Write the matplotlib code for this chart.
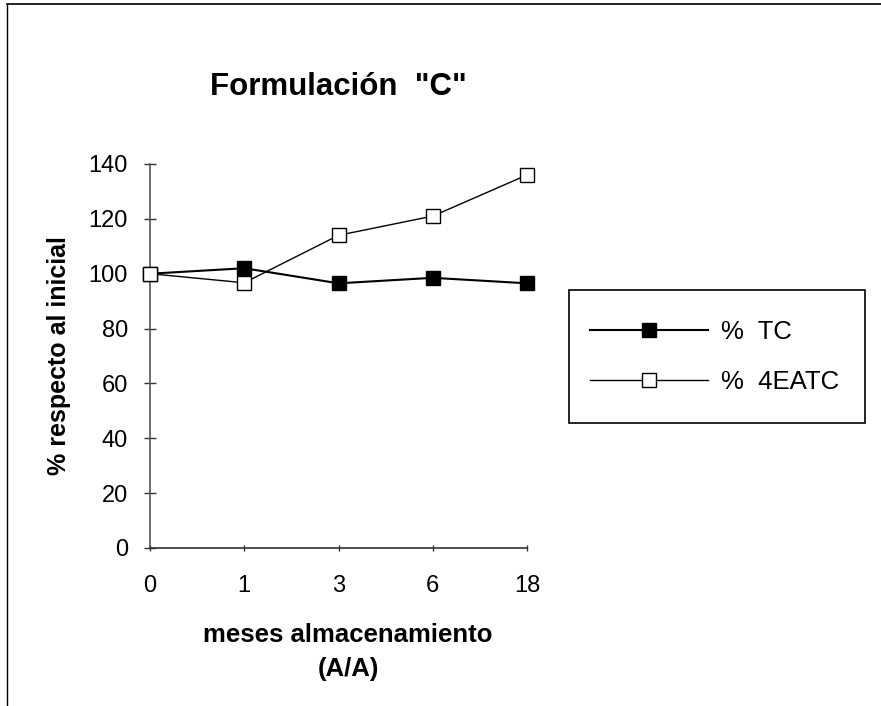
import matplotlib
matplotlib.use("Agg")
from matplotlib import pyplot as plt
from matplotlib.lines import Line2D
from matplotlib.patches import Rectangle

# datos
meses = ['0', '1', '3', '6', '18']
tc = [100, 102, 96.5, 98.5, 96.5]
eatc = [100, 96.7, 114, 121, 136]

plt.rcParams['font.family'] = ['Liberation Sans', 'DejaVu Sans']

W, H = 881, 706
fig = plt.figure(figsize=(W / 100, H / 100), dpi=100)
fig.patch.set_facecolor('white')

# ejes en pixeles
x0, x1, ytop, ybot = 150, 527, 164, 548
ax = fig.add_axes([x0 / W, 1 - ybot / H, (x1 - x0) / W, (ybot - ytop) / H])

pos = list(range(len(meses)))
ax.plot(pos, tc, color='black', linewidth=1.5, marker='s', markersize=10.5,
        markerfacecolor='black', markeredgecolor='black', clip_on=False,
        label='%  TC', zorder=3)
ax.plot(pos, eatc, color='black', linewidth=1.0, marker='s', markersize=10.5,
        markerfacecolor='white', markeredgecolor='black', markeredgewidth=1.0,
        clip_on=False, label='%  4EATC', zorder=4)

ax.set_xlim(0, len(meses) - 1)
ax.set_ylim(0, 140)
ax.set_yticks(range(0, 141, 20))
ax.set_xticks(pos)
ax.set_xticklabels(meses)

for s in ['top', 'right']:
    ax.spines[s].set_visible(False)
ax.spines['left'].set_color('#555555')
ax.spines['bottom'].set_color('#333333')
ax.spines['left'].set_linewidth(1.2)
ax.spines['bottom'].set_linewidth(1.2)

ax.tick_params(axis='y', direction='inout', length=8, width=1, color='#333333',
               labelsize=17, pad=12)
ax.tick_params(axis='x', direction='inout', length=5, width=1, color='#333333',
               labelsize=17, pad=17)

ax.set_ylabel('% respecto al inicial', fontsize=18, fontweight='bold')
ax.yaxis.label.set_va('center')
ax.yaxis.set_label_coords((59 - x0) / (x1 - x0), 0.5)

ax.set_xlabel('meses almacenamiento\n(A/A)', fontsize=18.5, fontweight='bold',
              linespacing=1.5)
ax.xaxis.label.set_va('center')
ax.xaxis.set_label_coords((348 - x0) / (x1 - x0), -(652 - ybot) / (ybot - ytop))

fig.text(210 / W, 1 - 87 / H, 'Formulación  "C"', fontsize=22.5,
         fontweight='bold', ha='left', va='center')

# leyenda
leg = fig.legend(loc='center left', bbox_to_anchor=(590 / W, 1 - 357 / H),
                 frameon=False, fontsize=18.5, handlelength=4.6,
                 handletextpad=0.5, labelspacing=1.05, borderpad=0,
                 borderaxespad=0, markerscale=1.0)
fig.patches.append(Rectangle((569 / W, 1 - 423 / H), 296 / W, 133 / H,
                             transform=fig.transFigure, fill=False,
                             edgecolor='black', linewidth=1.2))

# marco exterior
fig.lines.append(Line2D([7 / W, 1], [1 - 4 / H, 1 - 4 / H],
                        transform=fig.transFigure, color='black', linewidth=1.2))
fig.lines.append(Line2D([7 / W, 7 / W], [0, 1 - 4 / H],
                        transform=fig.transFigure, color='black', linewidth=1.0))

fig.savefig('out.png', dpi=100)
